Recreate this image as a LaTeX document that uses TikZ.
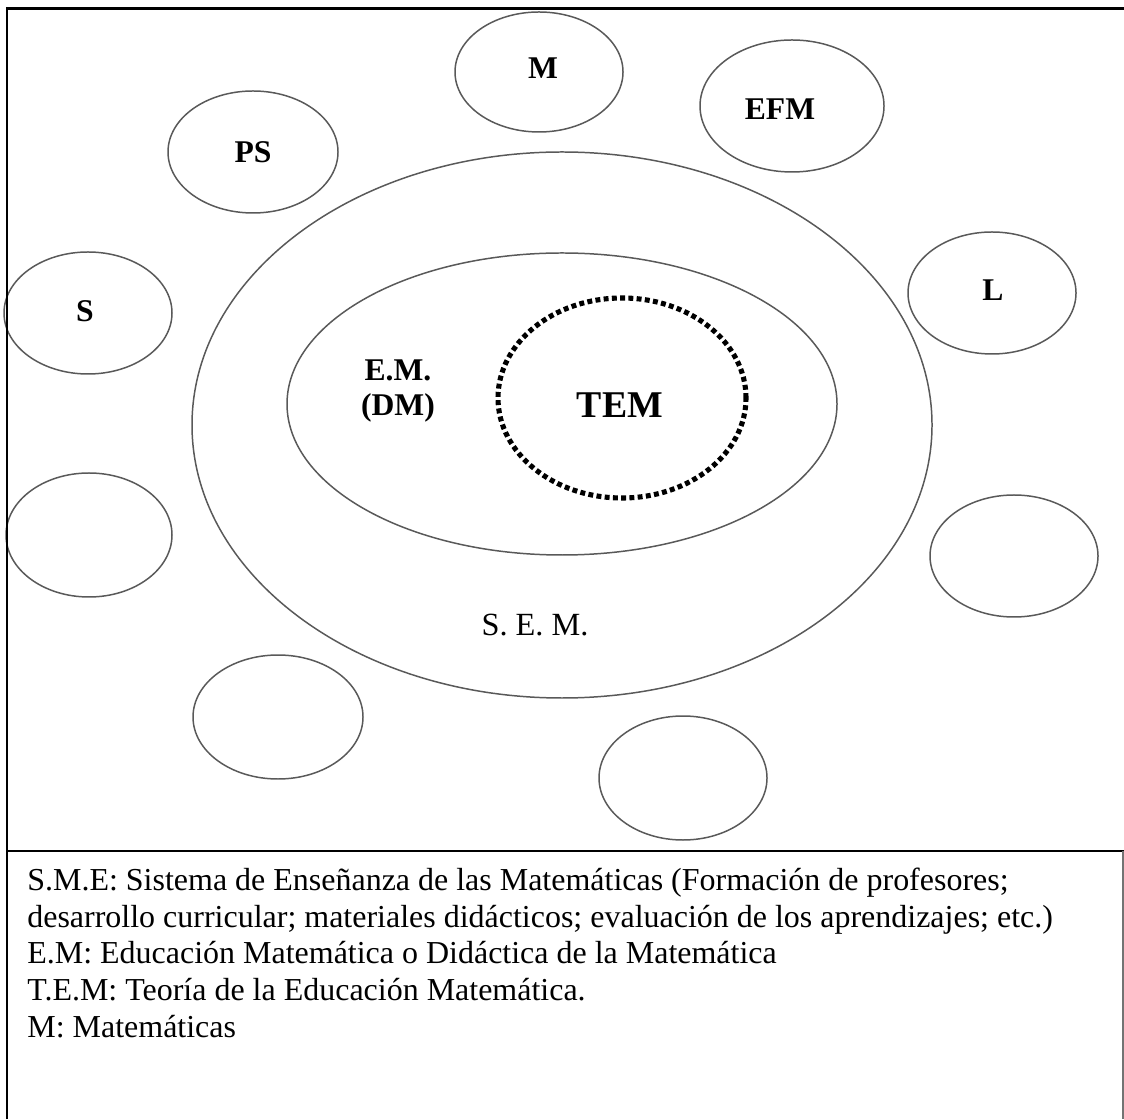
\documentclass[tikz,border=0pt]{standalone}
\usepackage{fontspec}
\setmainfont{Liberation Serif}

\begin{document}
\begin{tikzpicture}[x=0.02cm, y=0.02cm,
    ring/.style={draw=black!65, line width=0.85pt},
    dotring/.style={draw=black, line width=2.9pt, dash pattern=on 2.8pt off 1.9pt},
    tag/.style={font=\bfseries\fontsize{18}{20}\selectfont},
    bigtag/.style={font=\bfseries\fontsize{21.5}{23}\selectfont},
    semtag/.style={font=\fontsize{18.4}{20}\selectfont},
    legend/.style={font=\fontsize{18.2}{20}\selectfont, anchor=base west, inner sep=0pt}]
    \useasboundingbox (0,0) rectangle (1124,1119);

    %frame
    \draw[line width=1.7pt] (7,0) -- (7,1110) -- (1124,1110);
    \draw[line width=1.1pt] (7,268) -- (1124,268);
    \draw[black!55, line width=0.6pt] (1123,268) -- (1123,0);

    %S.E.M. and E.M.
    \draw[ring] (562,694) ellipse [x radius=370, y radius=273];
    \draw[ring] (562,715) ellipse [x radius=275, y radius=151];
    \draw[dotring] (622,721) ellipse [x radius=124, y radius=100];

    %satellites
    \draw[ring] (539,1047) ellipse [x radius=84, y radius=60];
    \draw[ring] (792,1013) ellipse [x radius=92, y radius=66];
    \draw[ring] (253,967) ellipse [x radius=85, y radius=61];
    \draw[ring] (992,826) ellipse [x radius=84, y radius=61];
    \draw[ring] (88,806) ellipse [x radius=84, y radius=61];
    \draw[ring] (89,584) ellipse [x radius=83, y radius=62];
    \draw[ring] (1014,563) ellipse [x radius=84, y radius=61];
    \draw[ring] (278,402) ellipse [x radius=85, y radius=62];
    \draw[ring] (683,341) ellipse [x radius=84, y radius=62];
    \draw[line width=1.7pt] (7,268) -- (7,1110);

    %labels
    \node[tag] (m) at (543,1051) {M};
    \node[tag] (efm) at (780,1010) {EFM};
    \node[tag] (ps) at (253,967) {PS};
    \node[tag] (l) at (993,829) {L};
    \node[tag] (s) at (85,808) {S};
    \node[tag, align=center, inner sep=0pt] (em) at (398,728) {E.M.\\(DM)};
    \node[bigtag] (tem) at (620,714) {TEM};
    \node[semtag] (sem) at (535,494) {S. E. M.};

    %legend
    \node[legend] (l1) at (27,229) {S.M.E: Sistema de Enseñanza de las Matemáticas (Formación de profesores;};
    \node[legend] (l2) at (27,192) {desarrollo curricular; materiales didácticos; evaluación de los aprendizajes; etc.)};
    \node[legend] (l3) at (27,156) {E.M: Educación Matemática o Didáctica de la Matemática};
    \node[legend] (l4) at (27,119) {T.E.M: Teoría de la Educación Matemática.};
    \node[legend] (l5) at (27,82) {M: Matemáticas};
\end{tikzpicture}
\end{document}
